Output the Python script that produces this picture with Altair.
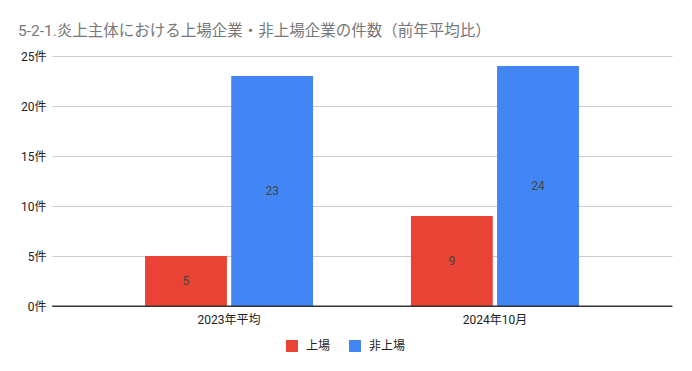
import altair as alt
import pandas as pd

categories = ["2023年平均", "2024年10月"]
series = ["上場", "非上場"]
listed = [5, 9]
unlisted = [23, 24]
colors = ["#EA4335", "#4285F4"]
title_text = "5-2-1.炎上主体における上場企業・非上場企業の件数（前年平均比）"

rows = []
for i, c in enumerate(categories):
    rows.append({"period": c, "type": series[0], "count": listed[i]})
    rows.append({"period": c, "type": series[1], "count": unlisted[i]})
df = pd.DataFrame(rows)

font = "Roboto, 'Noto Sans CJK JP', sans-serif"

base = alt.Chart(df).encode(
    x=alt.X("period:N", sort=categories, title=None,
            scale=alt.Scale(paddingInner=0.368, paddingOuter=0.35),
            axis=alt.Axis(labelAngle=0, domain=True, domainColor="#333333", domainWidth=1,
                          ticks=False, labelColor="#222222", labelFontSize=12,
                          labelFont=font, labelPadding=8)),
    xOffset=alt.XOffset("type:N", sort=series, scale=alt.Scale(paddingInner=0.05)),
)

bars = base.mark_bar().encode(
    y=alt.Y("count:Q", title=None,
            scale=alt.Scale(domain=[0, 25], nice=False, zero=True),
            axis=alt.Axis(values=[0, 5, 10, 15, 20, 25], labelExpr="datum.value + '件'",
                          domain=False, ticks=False, gridColor="#cccccc",
                          labelColor="#222222", labelFontSize=12, labelFont=font,
                          labelPadding=6)),
    color=alt.Color("type:N", sort=series,
                    scale=alt.Scale(domain=series, range=colors),
                    legend=alt.Legend(title=None, orient="none", direction="horizontal",
                                      legendX=234, legendY=284,
                                      symbolType="square", symbolSize=144,
                                      symbolStrokeWidth=0,
                                      labelFontSize=12, labelColor="#222222",
                                      labelFont=font, columnPadding=18, labelOffset=8)),
)

labels = base.mark_text(fontSize=12, color="#444444", font=font).encode(
    y=alt.Y("mid:Q"),
    text=alt.Text("count:Q"),
).transform_calculate(mid="datum.count / 2")

zero = alt.Chart(pd.DataFrame({"v": [0]})).mark_rule(color="#333333", strokeWidth=1).encode(
    y="v:Q"
)

chart = alt.layer(bars, labels, zero).properties(
    width=620,
    height=250,
    autosize=alt.AutoSizeParams(type="none"),
    padding={"left": 44, "top": 48, "right": 8, "bottom": 50},
    title=alt.TitleParams(title_text, anchor="start", frame="group", dx=-34, dy=-7,
                          fontSize=15.5, fontWeight="normal", color="#777777", font=font),
).configure_view(stroke=None)

chart.save("out.html", embed_options={"renderer": "svg", "actions": False})
